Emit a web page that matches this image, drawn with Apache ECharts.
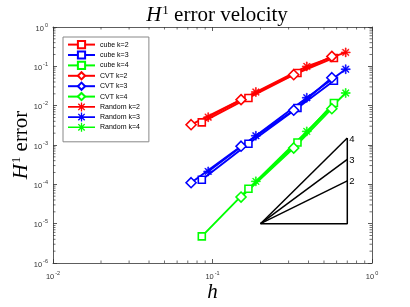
<!DOCTYPE html>
<html>
<head>
<meta charset="utf-8">
<script src="https://cdn.jsdelivr.net/npm/echarts@6/dist/echarts.min.js"></script>
<style>html,body{margin:0;padding:0;background:#fff;}#c{width:410px;height:307px;}</style>
</head>
<body>
<div id="c"></div>
<script>
// mesh sizes h for each mesh type
const hCube = [0.0857, 0.168, 0.341, 0.577];
const hCVT = [0.0734, 0.151, 0.323, 0.560];
const hRandom = [0.094, 0.187, 0.390, 0.684];
// H1 errors
const cubeK2 = [3.75e-3, 0.0157, 0.0676, 0.163];
const cubeK3 = [1.31e-4, 1.08e-3, 8.72e-3, 0.0431];
const cubeK4 = [4.74e-6, 7.74e-5, 1.16e-3, 0.0117];
const cvtK2 = [3.28e-3, 0.0142, 0.0612, 0.179];
const cvtK3 = [1.10e-4, 9.31e-4, 7.67e-3, 0.0514];
const cvtK4 = [null, 4.76e-5, 8.39e-4, 8.37e-3];
const randomK2 = [5.09e-3, 0.0222, 0.0996, 0.226];
const randomK3 = [2.13e-4, 1.72e-3, 0.0159, 0.0845];
const randomK4 = [null, 1.19e-4, 2.22e-3, 0.021];
// slope triangle (reference lines)
const triH = [0.2, 0.7];
const triBase = 1e-5;
const triTops = [1.225e-4, 4.2875e-4, 1.5006e-3];
const triLabels = ['2', '3', '4'];
// ticks
const xTickExps = ['-2', '-1', '0'];
const yTickExps = ['-6', '-5', '-4', '-3', '-2', '-1', '0'];
const minorMant = [2, 3, 4, 5, 6, 7, 8, 9];
const seriesNames = ['cube k=2','cube k=3','cube k=4','CVT k=2','CVT k=3','CVT k=4','Random k=2','Random k=3','Random k=4'];

const RED = '#ff0000', BLUE = '#0000ff', GREEN = '#00ff00';
// filled asterisk (4 thin bars)
const starPath = 'path://M-1,-10L1,-10L1,10L-1,10Z M-10,-1L10,-1L10,1L-10,1Z M-7.7,-6.3L-6.3,-7.7L7.7,6.3L6.3,7.7Z M-7.7,6.3L-6.3,7.7L7.7,-6.3L6.3,-7.7Z';
// legend icon: line with asterisk in the middle (27 x 9 box)
const starLegendIcon = 'path://M0,3.7L27,3.7L27,5.3L0,5.3Z M12.85,0L14.15,0L14.15,9L12.85,9Z M9.83,1.77L10.77,0.83L17.17,7.23L16.23,8.17Z M9.83,7.23L16.23,0.83L17.17,1.77L10.77,8.17Z';

function pairs(hs, es) { return hs.map((h, i) => es[i] == null ? null : [h, es[i]]).filter(p => p); }

function mk(name, hs, es, color, symbol, size) {
  const isStar = symbol === starPath;
  return {
    name, type: 'line', data: pairs(hs, es), symbol, symbolSize: size,
    showAllSymbol: true,
    lineStyle: { color, width: 1.9 },
    itemStyle: { color: isStar ? color : '#fff', borderColor: color, borderWidth: isStar ? 0.6 : 1.6 },
    emphasis: { disabled: true }, animation: false, z: 3
  };
}

const xMinor = [], yMinor = [];
[-2, -1].forEach(e => minorMant.forEach(m => xMinor.push([m * Math.pow(10, e), 1e-6])));
[-6, -5, -4, -3, -2, -1].forEach(e => minorMant.forEach(m => yMinor.push([0.01, m * Math.pow(10, e)])));

const TICK = '#333';
function minorX(params, api) {
  const v = api.value(0);
  const b = api.coord([v, 1e-6]), t = api.coord([v, 1]);
  return { type: 'group', children: [
    { type: 'line', shape: { x1: b[0], y1: b[1], x2: b[0], y2: b[1] - 2.5 }, style: { stroke: TICK, lineWidth: 0.7 } },
    { type: 'line', shape: { x1: t[0], y1: t[1], x2: t[0], y2: t[1] + 2.5 }, style: { stroke: TICK, lineWidth: 0.7 } }
  ] };
}
function minorY(params, api) {
  const v = api.value(1);
  const l = api.coord([0.01, v]), r = api.coord([1, v]);
  return { type: 'group', children: [
    { type: 'line', shape: { x1: l[0], y1: l[1], x2: l[0] + 2.5, y2: l[1] }, style: { stroke: TICK, lineWidth: 0.7 } },
    { type: 'line', shape: { x1: r[0], y1: r[1], x2: r[0] - 2.5, y2: r[1] }, style: { stroke: TICK, lineWidth: 0.7 } }
  ] };
}

const triSeries = triTops.map((top, i) => ({
  type: 'line', data: [[triH[0], triBase], [triH[1], top]], symbol: 'none',
  lineStyle: { color: '#000', width: 1.5 }, silent: true, animation: false, z: 2,
  endLabel: { show: true, formatter: triLabels[i], color: '#000', fontSize: 9.5, fontFamily: 'Liberation Sans', distance: 2, offset: [0, 1] }
}));
triSeries.push({
  type: 'line', data: [[triH[0], triBase], [triH[1], triBase], [triH[1], triTops[2]]], symbol: 'none',
  lineStyle: { color: '#000', width: 1.5 }, silent: true, animation: false, z: 2
});

const labRich = {
  b: { fontSize: 7.5, fontFamily: 'Liberation Sans', color: '#333', padding: [3, 1, 0, 0] },
  s: { fontSize: 5.5, fontFamily: 'Liberation Sans', color: '#333', padding: [0, 0, 4, 0] }
};
const nameRich = {
  h: { fontSize: 21, fontStyle: 'italic', fontWeight: 'normal', fontFamily: 'Liberation Serif', color: '#000' },
  s: { fontSize: 13, fontWeight: 'normal', fontFamily: 'Liberation Serif', color: '#000', padding: [0, 0, 9, 1] },
  n: { fontSize: 21, fontWeight: 'normal', fontFamily: 'Liberation Serif', color: '#000' }
};
const axisCommon = {
  type: 'log', logBase: 10,
  axisLine: { show: true, lineStyle: { color: TICK, width: 0.8 } },
  axisTick: { show: true, inside: true, length: 4, lineStyle: { color: TICK, width: 0.8 } },
  splitLine: { show: false }, minorTick: { show: false }
};

const legendData = seriesNames.map(n => n.indexOf('Random') === 0
  ? { name: n, icon: starLegendIcon, itemStyle: { borderWidth: 0 } }
  : { name: n });

const chart = echarts.init(document.getElementById('c'), null, { renderer: 'canvas' });
chart.setOption({
  animation: false,
  backgroundColor: '#fff',
  title: {
    text: '{h|H}{s|1}{n| error velocity}', left: 212, textAlign: 'center', top: -1,
    textStyle: { fontWeight: 'normal', rich: nameRich }
  },
  grid: { left: 53, right: 38, top: 27, bottom: 44, containLabel: false, outerBoundsMode: 'none' },
  legend: {
    data: legendData, orient: 'vertical', left: 63, top: 37,
    itemWidth: 27, itemHeight: 9, itemGap: 1.2,
    padding: [3, 9, 10, 4],
    borderColor: '#888', borderWidth: 1, backgroundColor: '#fff',
    textStyle: { fontSize: 7, fontFamily: 'Liberation Sans', color: '#000' },
    selectedMode: false
  },
  xAxis: [
    Object.assign({}, axisCommon, {
      min: 0.01, max: 1, position: 'bottom', splitNumber: 2,
      name: 'h', nameLocation: 'middle', nameGap: 19, nameMoveOverlap: false,
      nameTextStyle: { fontSize: 21, fontStyle: 'italic', fontFamily: 'Liberation Serif', color: '#000' },
      axisLabel: { margin: 7, rich: labRich, formatter: v => '{b|10}{s|' + xTickExps[Math.round(Math.log10(v)) + 2] + '}' }
    }),
    Object.assign({}, axisCommon, { min: 0.01, max: 1, position: 'top', splitNumber: 2, axisLabel: { show: false } })
  ],
  yAxis: [
    Object.assign({}, axisCommon, {
      min: 1e-6, max: 1, position: 'left', splitNumber: 6,
      name: '{h|H}{s|1}{n| error}', nameLocation: 'middle', nameGap: 21, nameMoveOverlap: false,
      nameTextStyle: { fontWeight: 'normal', rich: nameRich },
      axisLabel: { margin: 5, rich: labRich, formatter: v => '{b|10}{s|' + yTickExps[Math.round(Math.log10(v)) + 6] + '}' }
    }),
    Object.assign({}, axisCommon, { min: 1e-6, max: 1, position: 'right', splitNumber: 6, axisLabel: { show: false } })
  ],
  series: [
    mk('cube k=2', hCube, cubeK2, RED, 'rect', 7),
    mk('cube k=3', hCube, cubeK3, BLUE, 'rect', 7),
    mk('cube k=4', hCube, cubeK4, GREEN, 'rect', 7),
    mk('CVT k=2', hCVT, cvtK2, RED, 'diamond', 10),
    mk('CVT k=3', hCVT, cvtK3, BLUE, 'diamond', 10),
    mk('CVT k=4', hCVT, cvtK4, GREEN, 'diamond', 10),
    mk('Random k=2', hRandom, randomK2, RED, starPath, 9),
    mk('Random k=3', hRandom, randomK3, BLUE, starPath, 9),
    mk('Random k=4', hRandom, randomK4, GREEN, starPath, 9),
    ...triSeries,
    { type: 'custom', data: xMinor, renderItem: minorX, silent: true, clip: false, animation: false, z: 1 },
    { type: 'custom', data: yMinor, renderItem: minorY, silent: true, clip: false, animation: false, z: 1 }
  ]
});
</script>
</body>
</html>
